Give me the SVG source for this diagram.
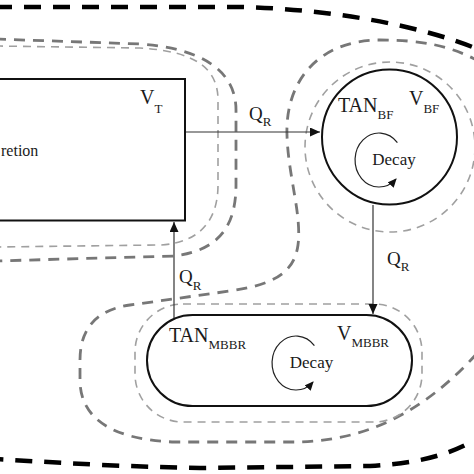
<svg xmlns="http://www.w3.org/2000/svg" width="474" height="474" viewBox="0 0 474 474">
<defs>
<style>
.t{font-family:"Liberation Serif","Times New Roman",serif;fill:#1a1a1a}
.big{font-size:20px}
.q{font-size:19px}
.sub{font-size:13px}
.dec{font-size:17px}
.node{fill:#fff;stroke:#111;stroke-width:2}
.outer{fill:none;stroke:#000;stroke-width:4.5;stroke-dasharray:17 12}
.thick{fill:none;stroke:#777;stroke-width:2.8;stroke-dasharray:11 8}
.thin{fill:none;stroke:#a0a0a0;stroke-width:1.6;stroke-dasharray:8 6}
.conn{fill:none;stroke:#333;stroke-width:1.2}
.loop{fill:none;stroke:#222;stroke-width:1.2}
</style>
<marker id="ah" markerUnits="userSpaceOnUse" markerWidth="11" markerHeight="10" refX="10" refY="4.5" orient="auto">
<path d="M0,0 L10,4.5 L0,9 z" fill="#111"/>
</marker>
<marker id="ah2" markerUnits="userSpaceOnUse" markerWidth="10" markerHeight="9" refX="8" refY="4" orient="auto">
<path d="M0,0 L9,4 L0,8 z" fill="#111"/>
</marker>
</defs>
<rect width="474" height="474" fill="#fff"/>
<g id="boundaries">
<path class="outer" d="M -5,7 L 240,7 C 330,9 420,25 480,50 L 560,200 L 480,437 C 450,455 420,463 370,466 L 200,468 C 100,466 50,462 -5,459"/>
<path class="thick" d="M -5,39 L 140,44 C 200,48 236,70 236,110 L 236,185 C 236,225 220,250 175,256 L -5,261"/>
<path class="thin" d="M -5,46 L 140,48 C 190,51 218,65 218,100 L 218,185 C 218,220 200,243 160,245 L -5,247"/>
<path class="thick" d="M 480,62 C 450,45 420,40 380,40 C 320,40 285,80 287,135 C 288,175 302,215 298,245 C 294,275 270,285 230,291 L 130,305 C 95,310 80,330 80,360 L 80,380 C 80,420 115,440 175,442 L 300,442 C 360,440 420,418 480,350"/>
<circle class="thin" cx="390" cy="147" r="85"/>
<rect class="thin" x="135" y="304" width="287" height="118" rx="48" ry="48"/>
</g>
<g id="connectors">
<line class="conn" x1="186" y1="132" x2="320" y2="132" marker-end="url(#ah)"/>
<line class="conn" x1="373" y1="205" x2="373" y2="314" marker-end="url(#ah)"/>
<line class="conn" x1="174" y1="318" x2="174" y2="222" marker-end="url(#ah)"/>
<text class="t q" x="249" y="120">Q<tspan class="sub" dy="6">R</tspan></text>
<text class="t q" x="387" y="265">Q<tspan class="sub" dy="6">R</tspan></text>
<text class="t q" x="179" y="283">Q<tspan class="sub" dy="7">R</tspan></text>
</g>
<g id="tank">
<rect class="node" x="-10" y="79" width="195" height="141.5"/>
<text class="t" x="1" y="156" font-size="16">retion</text>
<text class="t big" x="140" y="104">V<tspan class="sub" dy="9">T</tspan></text>
</g>
<g id="biofilter">
<circle class="node" cx="389.5" cy="137" r="67.5"/>
<text class="t big" x="338" y="112">TAN<tspan class="sub" dy="7">BF</tspan></text>
<text class="t big" x="409" y="105">V<tspan class="sub" dy="8">BF</tspan></text>
<path class="loop" d="M 397.4,142.6 A 24 27 0 1 0 396,179.1" marker-end="url(#ah2)"/>
<text class="t dec" x="394" y="165" text-anchor="middle">Decay</text>
</g>
<g id="mbbr">
<rect class="node" x="147" y="315" width="265" height="91" rx="45.5" ry="45.5"/>
<text class="t big" x="169" y="342">TAN<tspan class="sub" dy="7">MBBR</tspan></text>
<text class="t big" x="337" y="340">V<tspan class="sub" dy="7">MBBR</tspan></text>
<path class="loop" d="M 314.4,345.6 A 24 27 0 1 0 313,382.1" marker-end="url(#ah2)"/>
<text class="t dec" x="311.5" y="368" text-anchor="middle">Decay</text>
</g>
</svg>
